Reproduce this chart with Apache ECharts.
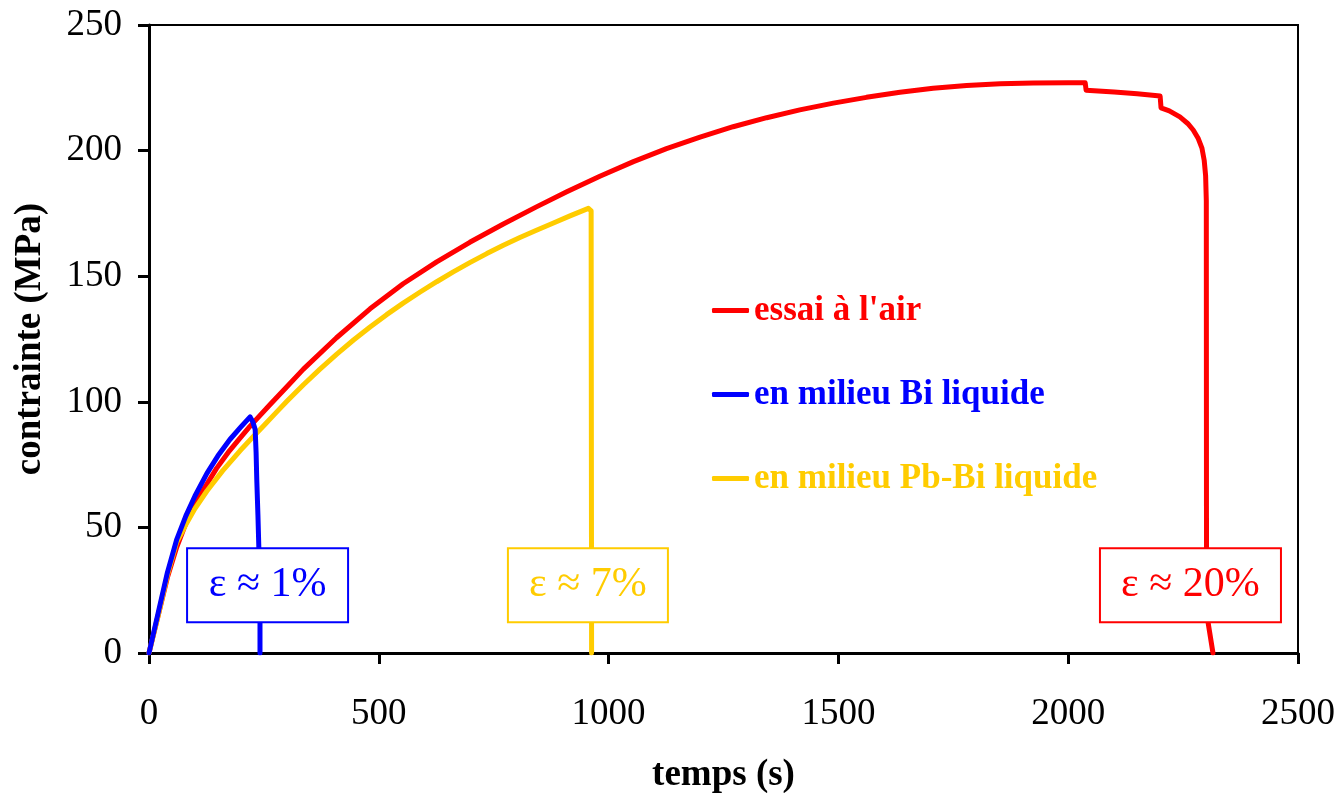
<!DOCTYPE html>
<html>
<head>
<meta charset="utf-8">
<script src="https://cdn.jsdelivr.net/npm/echarts@6/dist/echarts.min.js"></script>
<style>
  html, body { margin: 0; padding: 0; background: #fff; overflow: hidden; }
  #chart { width: 1340px; height: 793px; }
</style>
</head>
<body>
<div id="chart"></div>
<script>
// Tensile test: stress vs time, in air and in liquid metal environments
const seriesNames = ["essai à l'air", "en milieu Bi liquide", "en milieu Pb-Bi liquide"];
const seriesColors = ['#ff0000', '#0000ff', '#ffcc00'];

// essai à l'air : temps (s) / contrainte (MPa)
const airTime = [0, 20, 40, 60, 80, 100, 120, 147, 175, 198, 220, 263, 300, 336, 408, 481, 553, 626, 698, 771, 843, 909,
  981, 1054, 1126, 1199, 1271, 1344, 1416, 1489, 1561, 1634, 1706, 1779, 1852, 1924, 2000, 2037,
  2039, 2100, 2150, 2200, 2202, 2220, 2243, 2260, 2272, 2283, 2291, 2296, 2299, 2300.5, 2301, 2315];
const airStress = [0, 15, 30, 42, 51.5, 59, 65.5, 73.5, 80.5, 85.5, 90.3, 98.8, 106, 113, 125.5, 137, 147, 155.7, 163.5, 170.8, 177.6, 183.6,
  189.8, 195.6, 200.8, 205.4, 209.5, 213.1, 216.2, 218.9, 221.2, 223.2, 224.8, 225.9, 226.6, 226.9, 227, 227,
  224, 223.3, 222.6, 221.7, 217, 215.8, 213.4, 210.8, 208.2, 204.8, 201, 196, 190, 180, 16, 0];

// en milieu Bi liquide
const biTime = [0, 20, 40, 60, 80, 100, 126, 150, 176, 200, 220, 226, 231, 233, 234.5, 237, 239, 240.5, 241.5, 241.5];
const biStress = [0, 16, 32, 45, 54.5, 62.5, 71.5, 78.5, 85, 90, 94, 92, 89, 80, 69, 55, 42, 30, 15, 0];

// en milieu Pb-Bi liquide
const pbbiTime = [0, 20, 40, 60, 80, 100, 126, 160, 198, 226, 250, 278, 300, 336, 372, 408, 445, 481, 517, 553, 590, 626,
  662, 698, 735, 771, 807, 843, 880, 916, 956, 962, 963];
const pbbiStress = [0, 15, 31, 44, 51, 57.5, 64.5, 72.5, 80.5, 86, 90.6, 96, 100.2, 106.8, 113, 118.9, 124.6, 129.8, 134.7, 139.3, 143.7, 147.8,
  151.7, 155.4, 159, 162.3, 165.4, 168.3, 171.2, 174, 177, 176, 0];

// Elongation at rupture, written in boxes anchored near each rupture
const ruptureLabels = ['ε ≈ 1%', 'ε ≈ 7%', 'ε ≈ 20%'];
const ruptureAnchorTime = [258, 955, 2266];
const ruptureAnchorStress = [27, 27, 27];
const ruptureBoxWidth = [159, 158, 179];

// Axis ticks
const xTicks = { min: 0, max: 2500, interval: 500 };
const yTicks = { min: 0, max: 250, interval: 50 };

const zip = (xs, ys) => xs.map((x, i) => [x, ys[i]]);

const FONT = '"Liberation Serif", "Times New Roman", serif';

const lineSeries = [
  { name: seriesNames[0], data: zip(airTime, airStress), color: seriesColors[0], z: 2 },
  { name: seriesNames[2], data: zip(pbbiTime, pbbiStress), color: seriesColors[2], z: 3 },
  { name: seriesNames[1], data: zip(biTime, biStress), color: seriesColors[1], z: 4 }
].map(s => ({
  type: 'line',
  name: s.name,
  data: s.data,
  z: s.z,
  showSymbol: false,
  symbol: 'none',
  animation: false,
  color: s.color,
  lineStyle: { color: s.color, width: 5, cap: 'round', join: 'round' }
}));

const boxColors = [seriesColors[1], seriesColors[2], seriesColors[0]];
const boxSeries = {
  type: 'scatter',
  name: 'rupture',
  z: 10,
  symbolSize: 0,
  animation: false,
  silent: true,
  itemStyle: { opacity: 1 },
  data: ruptureLabels.map((t, i) => ({
    value: [ruptureAnchorTime[i], ruptureAnchorStress[i]],
    name: t,
    label: {
      show: true,
      position: 'inside',
      formatter: t,
      color: boxColors[i],
      fontFamily: FONT,
      fontSize: 42,
      backgroundColor: '#ffffff',
      borderColor: boxColors[i],
      borderWidth: 2,
      width: ruptureBoxWidth[i],
      height: 72,
      lineHeight: 72,
      align: 'center',
      verticalAlign: 'middle',
      padding: 0
    }
  }))
};

const chart = echarts.init(document.getElementById('chart'), null, { renderer: 'canvas' });

const axisTextStyle = { color: '#000', fontFamily: FONT, fontSize: 37 };

chart.setOption({
  animation: false,
  backgroundColor: '#ffffff',
  grid: {
    left: 149, right: 42, top: 25, bottom: 140,
    containLabel: false,
    outerBoundsMode: 'none',
    show: true, borderColor: '#000', borderWidth: 2, backgroundColor: 'transparent'
  },
  xAxis: {
    type: 'value',
    min: xTicks.min, max: xTicks.max, interval: xTicks.interval,
    name: 'temps (s)',
    nameLocation: 'middle',
    nameGap: 104,
    nameTextStyle: { color: '#000', fontFamily: FONT, fontSize: 37, fontWeight: 'bold' },
    axisLine: { show: true, onZero: false, lineStyle: { color: '#000', width: 3 } },
    axisTick: { show: true, inside: false, length: 11, lineStyle: { color: '#000', width: 3 } },
    axisLabel: Object.assign({ margin: 43, formatter: v => String(v) }, axisTextStyle),
    splitLine: { show: false }
  },
  yAxis: {
    type: 'value',
    min: yTicks.min, max: yTicks.max, interval: yTicks.interval,
    name: 'contrainte (MPa)',
    nameLocation: 'middle',
    nameGap: 100,
    nameTextStyle: { color: '#000', fontFamily: FONT, fontSize: 37, fontWeight: 'bold' },
    axisLine: { show: true, onZero: false, lineStyle: { color: '#000', width: 3 } },
    axisTick: { show: true, inside: false, length: 11, lineStyle: { color: '#000', width: 3 } },
    axisLabel: Object.assign({ margin: 27, formatter: v => String(v) }, axisTextStyle),
    splitLine: { show: false }
  },
  legend: {
    orient: 'vertical',
    left: 707,
    top: 288,
    itemGap: 49,
    itemWidth: 37,
    itemHeight: 5,
    icon: 'roundRect',
    selectedMode: false,
    textStyle: { fontFamily: FONT, fontSize: 35, fontWeight: 'bold' },
    data: [0, 1, 2].map(i => ({ name: seriesNames[i], textStyle: { color: seriesColors[i] } }))
  },
  series: lineSeries.concat([boxSeries])
});
</script>
</body>
</html>
